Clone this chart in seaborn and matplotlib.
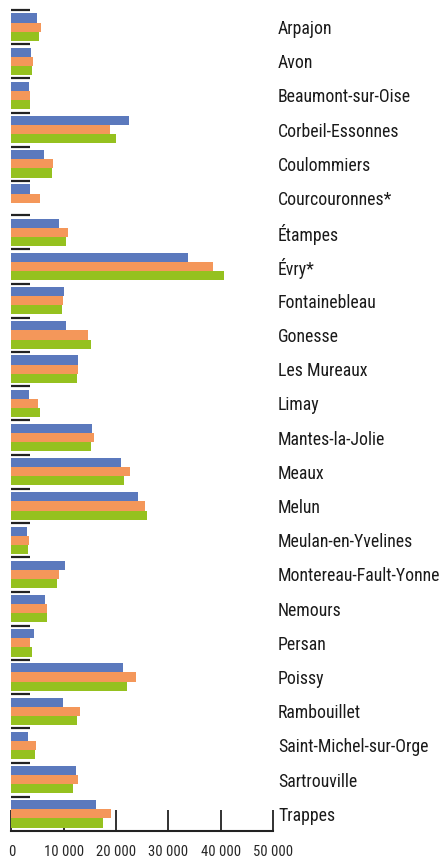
import pandas as pd
import numpy as np
import matplotlib
matplotlib.use("Agg")
import matplotlib.pyplot as plt
import seaborn as sns
from matplotlib import font_manager
from matplotlib.ticker import FixedLocator, FuncFormatter

villes = [
    "Arpajon", "Avon", "Beaumont-sur-Oise", "Corbeil-Essonnes", "Coulommiers",
    "Courcouronnes*", "Étampes", "Évry*", "Fontainebleau", "Gonesse",
    "Les Mureaux", "Limay", "Mantes-la-Jolie", "Meaux", "Melun",
    "Meulan-en-Yvelines", "Montereau-Fault-Yonne", "Nemours", "Persan", "Poissy",
    "Rambouillet", "Saint-Michel-sur-Orge", "Sartrouville", "Trappes",
]
serie_1 = [4900, 3700, 3300, 22400, 6200, 3500, 9100, 33700, 10000, 10400,
           12700, 3300, 15400, 20900, 24100, 3000, 10200, 6400, 4300, 21300,
           9800, 3100, 12300, 16100]
serie_2 = [5600, 4100, 3500, 18800, 7900, 5400, 10800, 38500, 9800, 14600,
           12700, 5100, 15700, 22600, 25500, 3300, 9100, 6800, 3500, 23800,
           13100, 4700, 12700, 19000]
serie_3 = [5200, 3900, 3500, 19900, 7700, 0, 10400, 40600, 9600, 15200,
           12500, 5400, 15200, 21500, 25900, 3100, 8700, 6800, 3900, 22000,
           12500, 4500, 11700, 17500]
series = ["Série 1", "Série 2", "Série 3"]
couleurs = ["#5b79bd", "#f4975a", "#95c11f"]
x_ticks = [0, 10000, 20000, 30000, 40000, 50000]

df = pd.DataFrame({"ville": villes, series[0]: serie_1,
                   series[1]: serie_2, series[2]: serie_3})
df_long = df.melt(id_vars="ville", var_name="serie", value_name="valeur")

# look for a narrow face, the reference uses a condensed grotesque
installed = {f.name for f in font_manager.fontManager.ttflist}
stretch = "normal"
police = "Roboto" if "Roboto" in installed else "DejaVu Sans"
for nom in ["Roboto Condensed", "Liberation Sans Narrow", "Arial Narrow"]:
    if nom in installed:
        police = nom
        break
else:
    cond = [f for f in font_manager.fontManager.ttflist
            if f.name in ("Roboto", "DejaVu Sans", "Open Sans") and f.stretch == "condensed"]
    if cond:
        police = cond[0].name
        stretch = "condensed"

sns.set_style("white")
plt.rcParams["font.family"] = [police, "DejaVu Sans"]
plt.rcParams["font.stretch"] = stretch

fig = plt.figure(figsize=(4.42, 8.59), dpi=100)
ax = fig.add_axes([0.026, 0.0326, 0.592, 0.9558])

sns.barplot(data=df_long, y="ville", x="valeur", hue="serie", orient="h",
            palette=couleurs, width=0.8, saturation=1, legend=False,
            linewidth=0, ax=ax)

n = len(villes)
ax.set_xlim(0, 50000)
ax.set_ylim(n - 0.5, -0.5)
ax.set_xlabel("")
ax.set_ylabel("")

sns.despine(ax=ax, left=True, top=True, right=True)
ax.spines["bottom"].set_color("#222222")
ax.spines["bottom"].set_linewidth(1.5)

# x ticks pointing up into the plot
ax.xaxis.set_major_locator(FixedLocator(x_ticks))
ax.xaxis.set_major_formatter(FuncFormatter(lambda v, p: f"{int(v):,}".replace(",", " ")))
ax.tick_params(axis="x", bottom=True, direction="in", length=15, width=1.3,
               color="#222222", pad=10, labelsize=10.5)

# city labels on the right, small dashes on the left at group boundaries
ax.yaxis.set_minor_locator(FixedLocator(np.arange(n) - 0.5))
ax.tick_params(axis="y", which="major", left=False, right=True, length=0,
               labelleft=False, labelright=True, pad=3.5, labelsize=12.8)
ax.tick_params(axis="y", which="minor", left=True, right=False, direction="in",
               length=13.5, width=1.6, color="#222222")
ax.yaxis.set_tick_params(which="major", labelcolor="#1a1a1a")

fig.savefig("out.png", dpi=100)
